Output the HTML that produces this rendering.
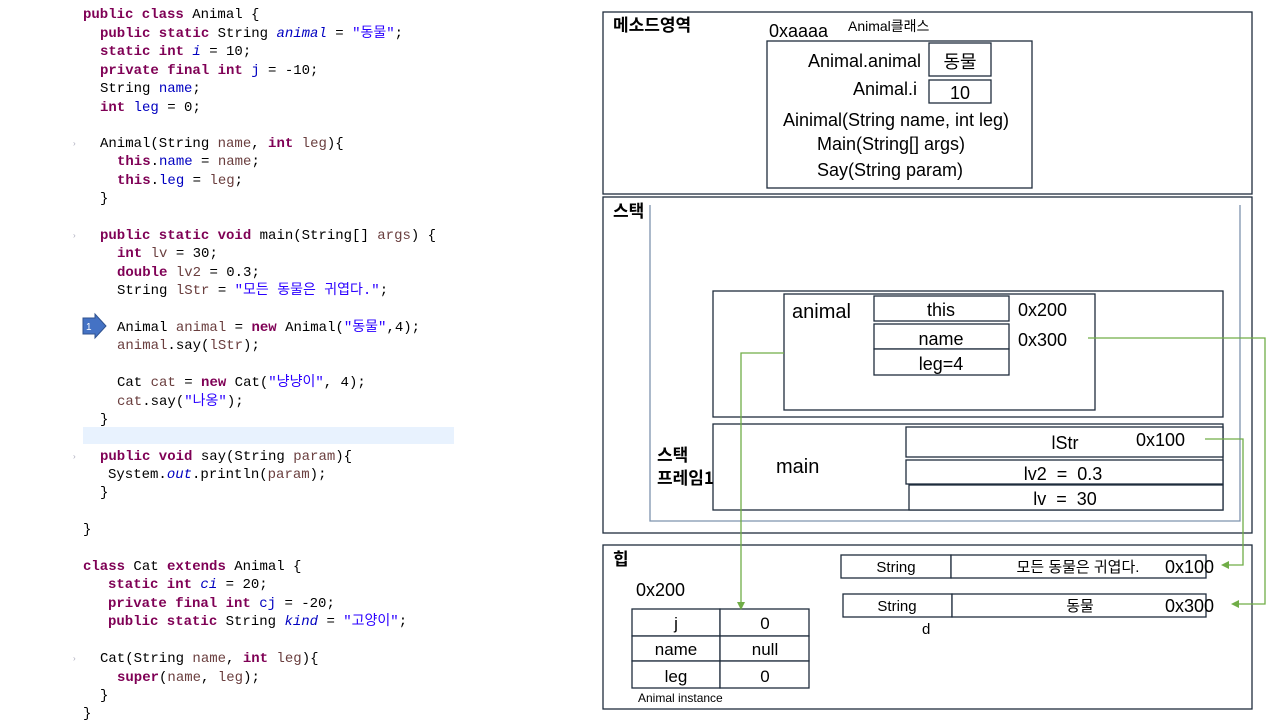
<!DOCTYPE html>
<html><head><meta charset="utf-8"><style>
html,body{margin:0;padding:0;background:#fff;}
svg{display:block}
.c{font-family:"Liberation Mono","Noto Sans CJK KR",monospace;font-size:14px;fill:#000;white-space:pre}
.k{fill:#7f0055;font-weight:bold}
.f{fill:#0000c0}
.fi{fill:#0000c0;font-style:italic}
.s{fill:#2a00ff}
.v{fill:#6a3e3e}
.d{font-family:"Liberation Sans","Noto Sans CJK KR",sans-serif;fill:#000}
.b{font-family:"Noto Sans CJK KR","Liberation Sans",sans-serif;font-weight:bold;font-size:17px}
rect.bx{fill:#fff;stroke:#1f2d3d;stroke-width:1.3}
</style></head><body>
<svg width="1280" height="720" viewBox="0 0 1280 720" xmlns="http://www.w3.org/2000/svg">
<rect x="0" y="0" width="1280" height="720" fill="#fff"/>
<rect x="83" y="427" width="371" height="17" fill="#e8f2fe"/>
<g class="c" xml:space="preserve">
<text x="83" y="18"><tspan class="k">public class</tspan> Animal {</text>
<text x="100" y="37"><tspan class="k">public static</tspan> String <tspan class="fi">animal</tspan> = <tspan class="s">"동물"</tspan>;</text>
<text x="100" y="55"><tspan class="k">static int</tspan> <tspan class="fi">i</tspan> = 10;</text>
<text x="100" y="74"><tspan class="k">private final int</tspan> <tspan class="f">j</tspan> = -10;</text>
<text x="100" y="92">String <tspan class="f">name</tspan>;</text>
<text x="100" y="111"><tspan class="k">int</tspan> <tspan class="f">leg</tspan> = 0;</text>
<text x="100" y="147">Animal(String <tspan class="v">name</tspan>, <tspan class="k">int</tspan> <tspan class="v">leg</tspan>){</text>
<text x="117" y="165"><tspan class="k">this</tspan>.<tspan class="f">name</tspan> = <tspan class="v">name</tspan>;</text>
<text x="117" y="184"><tspan class="k">this</tspan>.<tspan class="f">leg</tspan> = <tspan class="v">leg</tspan>;</text>
<text x="100" y="202">}</text>
<text x="100" y="239"><tspan class="k">public static void</tspan> main(String[] <tspan class="v">args</tspan>) {</text>
<text x="117" y="257"><tspan class="k">int</tspan> <tspan class="v">lv</tspan> = 30;</text>
<text x="117" y="276"><tspan class="k">double</tspan> <tspan class="v">lv2</tspan> = 0.3;</text>
<text x="117" y="294">String <tspan class="v">lStr</tspan> = <tspan class="s">"모든 동물은 귀엽다."</tspan>;</text>
<text x="117" y="331">Animal <tspan class="v">animal</tspan> = <tspan class="k">new</tspan> Animal(<tspan class="s">"동물"</tspan>,4);</text>
<text x="117" y="349"><tspan class="v">animal</tspan>.say(<tspan class="v">lStr</tspan>);</text>
<text x="117" y="386">Cat <tspan class="v">cat</tspan> = <tspan class="k">new</tspan> Cat(<tspan class="s">"냥냥이"</tspan>, 4);</text>
<text x="117" y="405"><tspan class="v">cat</tspan>.say(<tspan class="s">"나옹"</tspan>);</text>
<text x="100" y="423">}</text>
<text x="100" y="460"><tspan class="k">public void</tspan> say(String <tspan class="v">param</tspan>){</text>
<text x="108" y="478">System.<tspan class="fi">out</tspan>.println(<tspan class="v">param</tspan>);</text>
<text x="100" y="496">}</text>
<text x="83" y="533">}</text>
<text x="83" y="570"><tspan class="k">class</tspan> Cat <tspan class="k">extends</tspan> Animal {</text>
<text x="108" y="588"><tspan class="k">static int</tspan> <tspan class="fi">ci</tspan> = 20;</text>
<text x="108" y="607"><tspan class="k">private final int</tspan> <tspan class="f">cj</tspan> = -20;</text>
<text x="108" y="625"><tspan class="k">public static</tspan> String <tspan class="fi">kind</tspan> = <tspan class="s">"고양이"</tspan>;</text>
<text x="100" y="662">Cat(String <tspan class="v">name</tspan>, <tspan class="k">int</tspan> <tspan class="v">leg</tspan>){</text>
<text x="117" y="681"><tspan class="k">super</tspan>(<tspan class="v">name</tspan>, <tspan class="v">leg</tspan>);</text>
<text x="100" y="699">}</text>
<text x="83" y="717">}</text>
</g>
<g fill="#aab" font-size="8" font-family="Liberation Sans"><text x="73" y="146">›</text><text x="73" y="238">›</text><text x="73" y="459">›</text><text x="73" y="661">›</text></g>
<polygon points="83,318 95,318 95,314 106,326 95,338 95,334 83,334" fill="#4472c4" stroke="#2f528f"/>
<text x="86" y="330" font-family="Liberation Sans" font-size="10" fill="#fff">1</text>

<!-- method area -->
<rect class="bx" x="603" y="12" width="649" height="182"/>
<text class="b" x="613" y="31">메소드영역</text>
<text class="d" x="769" y="37" font-size="18">0xaaaa</text>
<text class="d" x="848" y="31" font-size="14">Animal클래스</text>
<rect class="bx" x="767" y="41" width="265" height="147"/>
<text class="d" x="921" y="67" font-size="18" text-anchor="end">Animal.animal</text>
<rect class="bx" x="929" y="43" width="62" height="33"/>
<text class="d" x="960" y="68" font-size="18" text-anchor="middle">동물</text>
<text class="d" x="917" y="95" font-size="18" text-anchor="end">Animal.i</text>
<rect class="bx" x="929" y="80" width="62" height="23"/>
<text class="d" x="960" y="99" font-size="18" text-anchor="middle">10</text>
<text class="d" x="896" y="126" font-size="18" text-anchor="middle">Ainimal(String name, int leg)</text>
<text class="d" x="891" y="150" font-size="18" text-anchor="middle">Main(String[] args)</text>
<text class="d" x="890" y="176" font-size="18" text-anchor="middle">Say(String param)</text>

<!-- stack -->
<rect class="bx" x="603" y="197" width="649" height="336"/>
<text class="b" x="613" y="217">스택</text>
<polyline points="650,205 650,521 1240,521 1240,205" fill="none" stroke="#7e93ad" stroke-width="1.3"/>
<rect class="bx" x="713" y="291" width="510" height="126"/>
<rect class="bx" x="784" y="294" width="311" height="116"/>
<text class="d" x="792" y="318" font-size="20">animal</text>
<rect class="bx" x="874" y="296" width="135" height="25"/>
<text class="d" x="941" y="316" font-size="18" text-anchor="middle">this</text>
<rect class="bx" x="874" y="324" width="135" height="25"/>
<text class="d" x="941" y="345" font-size="18" text-anchor="middle">name</text>
<rect class="bx" x="874" y="349" width="135" height="26"/>
<text class="d" x="941" y="370" font-size="18" text-anchor="middle">leg=4</text>
<text class="d" x="1018" y="316" font-size="18">0x200</text>
<text class="d" x="1018" y="346" font-size="18">0x300</text>

<rect class="bx" x="713" y="424" width="510" height="86"/>
<text class="b" x="657" y="461">스택</text>
<text class="b" x="657" y="484">프레임1</text>
<text class="d" x="776" y="473" font-size="20">main</text>
<rect class="bx" x="906" y="427" width="317" height="30"/>
<text class="d" x="1065" y="449" font-size="18" text-anchor="middle">lStr</text>
<text class="d" x="1136" y="446" font-size="18">0x100</text>
<rect class="bx" x="906" y="460" width="317" height="24"/>
<text class="d" x="1063" y="480" font-size="18" text-anchor="middle" xml:space="preserve">lv2  =  0.3</text>
<rect class="bx" x="909" y="485" width="314" height="25"/>
<text class="d" x="1065" y="505" font-size="18" text-anchor="middle" xml:space="preserve">lv  =  30</text>

<!-- heap -->
<rect class="bx" x="603" y="545" width="649" height="164"/>
<text class="b" x="613" y="565">힙</text>
<text class="d" x="636" y="596" font-size="18">0x200</text>
<rect class="bx" x="632" y="609" width="88" height="27"/>
<rect class="bx" x="720" y="609" width="89" height="27"/>
<rect class="bx" x="632" y="636" width="88" height="25"/>
<rect class="bx" x="720" y="636" width="89" height="25"/>
<rect class="bx" x="632" y="661" width="88" height="27"/>
<rect class="bx" x="720" y="661" width="89" height="27"/>
<text class="d" x="676" y="629" font-size="17" text-anchor="middle">j</text>
<text class="d" x="765" y="629" font-size="17" text-anchor="middle">0</text>
<text class="d" x="676" y="655" font-size="17" text-anchor="middle">name</text>
<text class="d" x="765" y="655" font-size="17" text-anchor="middle">null</text>
<text class="d" x="676" y="682" font-size="17" text-anchor="middle">leg</text>
<text class="d" x="765" y="682" font-size="17" text-anchor="middle">0</text>
<text class="d" x="638" y="702" font-size="12">Animal instance</text>

<rect class="bx" x="841" y="555" width="110" height="23"/>
<rect class="bx" x="951" y="555" width="255" height="23"/>
<text class="d" x="896" y="572" font-size="15" text-anchor="middle">String</text>
<text class="d" x="1078" y="572" font-size="15" text-anchor="middle">모든 동물은 귀엽다.</text>
<text class="d" x="1165" y="573" font-size="18">0x100</text>
<rect class="bx" x="843" y="594" width="109" height="23"/>
<rect class="bx" x="952" y="594" width="254" height="23"/>
<text class="d" x="897" y="611" font-size="15" text-anchor="middle">String</text>
<text class="d" x="1080" y="611" font-size="15" text-anchor="middle">동물</text>
<text class="d" x="1165" y="612" font-size="18">0x300</text>
<text class="d" x="922" y="634" font-size="15">d</text>

<!-- arrows -->
<g fill="none" stroke="#70ad47" stroke-width="1.3">
<polyline points="784,353 741,353 741,603"/>
<polyline points="1088,338 1265,338 1265,604 1238,604"/>
<polyline points="1205,439 1243,439 1243,565 1228,565"/>
</g>
<g fill="#70ad47">
<polygon points="737,602 745,602 741,610"/>
<polygon points="1239,600 1239,608 1231,604"/>
<polygon points="1229,561 1229,569 1221,565"/>
</g>
</svg>
</body></html>
